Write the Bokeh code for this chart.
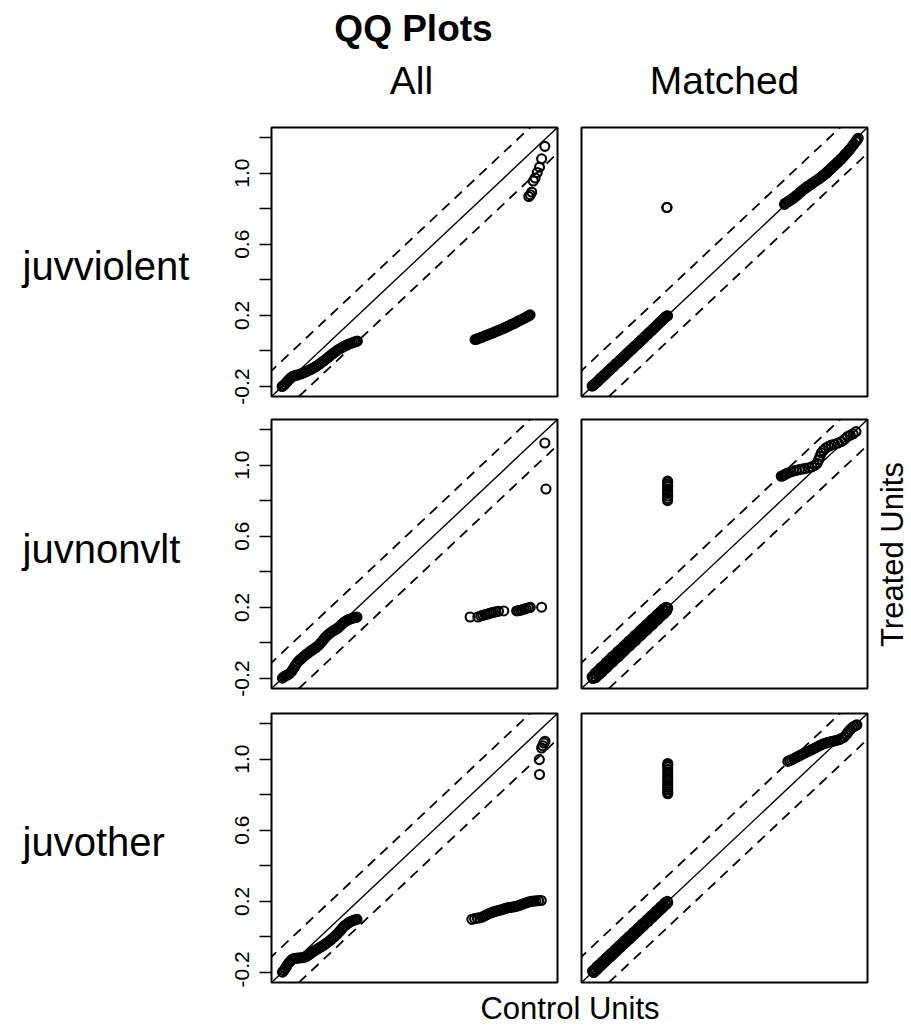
import math
from bokeh.plotting import figure
from bokeh.models import Range1d, Slope, FixedTicker
from bokeh.core.properties import value
from bokeh.layouts import column, row
from bokeh.embed import file_html
from bokeh.resources import INLINE

# ---------------- data (control quantile, treated quantile) ----------------
ROW_NAMES = ["juvviolent", "juvnonvlt", "juvother"]
COL_NAMES = ["All", "Matched"]
TITLE = "QQ Plots"
XLAB = "Control Units"
YLAB = "Treated Units"

Y_TICKS = [-0.2, 0.2, 0.6, 1.0]
Y_TICK_LABELS = ["-0.2", "0.2", "0.6", "1.0"]
Y_MINOR = [0.0, 0.4, 0.8, 1.2]
AX_MIN, AX_MAX = -0.256, 1.256
BAND = 0.145

# juvviolent - All
P1_LOW = [(-0.200,-0.200),(-0.193,-0.194),(-0.186,-0.187),(-0.178,-0.178),(-0.170,-0.169),
          (-0.162,-0.160),(-0.154,-0.151),(-0.146,-0.144),(-0.137,-0.140),(-0.128,-0.137),
          (-0.119,-0.135),(-0.109,-0.132),(-0.099,-0.128),(-0.089,-0.124),(-0.079,-0.119),
          (-0.069,-0.114),(-0.059,-0.109),(-0.049,-0.104),(-0.039,-0.098),(-0.029,-0.092),
          (-0.019,-0.086),(-0.009,-0.079),(0.001,-0.071),(0.011,-0.063),(0.021,-0.055),
          (0.031,-0.047),(0.041,-0.039),(0.051,-0.030),(0.061,-0.021),(0.071,-0.013),
          (0.081,-0.005),(0.091,0.003),(0.101,0.010),(0.111,0.016),(0.121,0.022),
          (0.131,0.028),(0.141,0.033),(0.151,0.038),(0.161,0.042),(0.171,0.046),
          (0.181,0.050),(0.190,0.053),(0.198,0.055)]
P1_MID = [(0.820,0.064),(0.828,0.066),(0.835,0.070),(0.843,0.073),(0.851,0.076),(0.859,0.078),
          (0.867,0.083),(0.875,0.086),(0.884,0.089),(0.893,0.093),(0.902,0.097),(0.911,0.100),
          (0.920,0.104),(0.929,0.109),(0.938,0.113),(0.947,0.116),(0.956,0.120),(0.965,0.125),
          (0.974,0.129),(0.983,0.133),(0.992,0.138),(1.001,0.142),(1.010,0.147),(1.019,0.151),
          (1.028,0.156),(1.037,0.161),(1.046,0.166),(1.055,0.171),(1.064,0.175),(1.073,0.180),
          (1.082,0.185),(1.091,0.190),(1.099,0.195),(1.106,0.199),(1.111,0.203)]
P1_HIGH = [(1.104,0.868),(1.112,0.878),(1.120,0.893),(1.128,0.955),(1.138,0.972),
           (1.149,1.003),(1.161,1.033),(1.172,1.080),(1.189,1.150)]

# juvviolent - Matched
P2_LOW = [(-0.200,-0.198),(-0.190,-0.190),(-0.180,-0.179),(-0.170,-0.171),(-0.160,-0.160),
          (-0.150,-0.148),(-0.140,-0.140),(-0.130,-0.131),(-0.120,-0.119),(-0.110,-0.110),
          (-0.100,-0.099),(-0.090,-0.091),(-0.080,-0.080),(-0.070,-0.069),(-0.060,-0.061),
          (-0.050,-0.049),(-0.040,-0.040),(-0.030,-0.031),(-0.020,-0.019),(-0.010,-0.010),
          (0.000,0.001),(0.010,0.009),(0.020,0.021),(0.030,0.030),(0.040,0.039),
          (0.050,0.051),(0.060,0.060),(0.070,0.069),(0.080,0.081),(0.090,0.090),
          (0.100,0.101),(0.110,0.110),(0.120,0.121),(0.130,0.131),(0.140,0.141),
          (0.150,0.152),(0.160,0.162),(0.170,0.172),(0.180,0.183),(0.190,0.192),(0.199,0.198),
          (-0.195,-0.193),(-0.185,-0.185),(-0.175,-0.176),(-0.165,-0.164),(-0.155,-0.155),
          (-0.145,-0.146),(-0.135,-0.134),(-0.125,-0.126),(-0.115,-0.114),(-0.105,-0.106),
          (-0.095,-0.094),(-0.085,-0.086),(-0.075,-0.074),(-0.065,-0.066),(-0.055,-0.054),
          (-0.045,-0.046),(-0.035,-0.034),(-0.025,-0.026),(-0.015,-0.014),(-0.005,-0.006),
          (0.005,0.006),(0.015,0.014),(0.025,0.026),(0.035,0.034),(0.045,0.046),
          (0.055,0.054),(0.065,0.066),(0.075,0.074),(0.085,0.086),(0.095,0.094),
          (0.105,0.106),(0.115,0.114),(0.125,0.126),(0.135,0.136),(0.145,0.147),
          (0.155,0.157),(0.165,0.167),(0.175,0.178),(0.185,0.188),(0.195,0.196)]
P2_MID = [(0.195,0.806),(0.196,0.807)]
P2_HIGH = [(0.817,0.824),(0.826,0.832),(0.835,0.838),(0.845,0.845),(0.855,0.852),(0.865,0.860),
           (0.875,0.868),(0.885,0.877),(0.895,0.886),(0.905,0.896),(0.915,0.905),(0.925,0.913),
           (0.935,0.920),(0.945,0.928),(0.955,0.935),(0.965,0.942),(0.975,0.950),(0.985,0.957),
           (0.995,0.964),(1.005,0.972),(1.015,0.980),(1.025,0.988),(1.035,0.996),(1.045,1.006),
           (1.055,1.016),(1.065,1.026),(1.075,1.036),(1.085,1.046),(1.095,1.056),(1.105,1.066),
           (1.115,1.076),(1.125,1.088),(1.135,1.100),(1.145,1.112),(1.155,1.124),(1.165,1.136),
           (1.175,1.150),(1.185,1.164),(1.195,1.178),(1.203,1.190),(1.207,1.196),
           (0.821,0.830),(0.840,0.843),(0.860,0.858),(0.880,0.874),(0.900,0.893),(0.920,0.910),
           (0.940,0.926),(0.960,0.940),(0.980,0.955),(1.000,0.969),(1.020,0.985),(1.040,1.002),
           (1.060,1.022),(1.080,1.042),(1.100,1.062),(1.120,1.083),(1.140,1.107),(1.160,1.131),
           (1.180,1.158),(1.199,1.185)]

# juvnonvlt - All
P3_LOW = [(-0.198,-0.198),(-0.190,-0.190),(-0.182,-0.185),(-0.174,-0.181),(-0.166,-0.177),
          (-0.158,-0.170),(-0.150,-0.160),(-0.142,-0.148),(-0.134,-0.134),(-0.126,-0.120),
          (-0.118,-0.108),(-0.109,-0.098),(-0.100,-0.090),(-0.091,-0.081),(-0.082,-0.073),
          (-0.073,-0.065),(-0.064,-0.058),(-0.055,-0.050),(-0.046,-0.044),(-0.037,-0.037),
          (-0.028,-0.030),(-0.019,-0.024),(-0.010,-0.016),(-0.001,-0.006),(0.008,0.004),
          (0.017,0.016),(0.026,0.028),(0.035,0.039),(0.044,0.047),(0.053,0.055),
          (0.062,0.062),(0.071,0.068),(0.080,0.074),(0.089,0.080),(0.098,0.087),
          (0.107,0.096),(0.116,0.105),(0.125,0.114),(0.134,0.121),(0.143,0.127),
          (0.152,0.131),(0.161,0.135),(0.170,0.138),(0.179,0.141),(0.188,0.143),(0.196,0.145)]
P3_MID = [(0.794,0.146),(0.835,0.146),(0.851,0.152),(0.862,0.156),(0.874,0.160),(0.886,0.163),
          (0.897,0.166),(0.908,0.170),(0.918,0.172),(0.930,0.175),(0.944,0.178),(0.972,0.180),
          (1.040,0.180),(1.050,0.182),(1.060,0.184),(1.070,0.187),(1.080,0.190),(1.090,0.194),
          (1.102,0.198),(1.112,0.200),(1.172,0.201)]
P3_HIGH = [(1.189,1.124),(1.195,0.865)]

# juvnonvlt - Matched
P4_LOW = [(-0.200,-0.190),(-0.185,-0.171),(-0.170,-0.157),(-0.155,-0.140),(-0.140,-0.127),
          (-0.125,-0.109),(-0.110,-0.096),(-0.095,-0.079),(-0.080,-0.066),(-0.065,-0.049),
          (-0.050,-0.036),(-0.035,-0.019),(-0.020,-0.006),(-0.005,0.011),(0.010,0.024),
          (0.025,0.041),(0.040,0.054),(0.055,0.071),(0.070,0.084),(0.085,0.101),
          (0.100,0.114),(0.115,0.131),(0.130,0.144),(0.145,0.161),(0.160,0.174),
          (0.175,0.190),(0.190,0.200),
          (-0.195,-0.200),(-0.180,-0.194),(-0.165,-0.179),(-0.150,-0.166),(-0.135,-0.149),
          (-0.120,-0.136),(-0.105,-0.119),(-0.090,-0.106),(-0.075,-0.089),(-0.060,-0.076),
          (-0.045,-0.059),(-0.030,-0.046),(-0.015,-0.029),(0.000,-0.016),(0.015,0.001),
          (0.030,0.014),(0.045,0.031),(0.060,0.044),(0.075,0.061),(0.090,0.074),
          (0.105,0.091),(0.120,0.104),(0.135,0.121),(0.150,0.134),(0.165,0.151),
          (0.180,0.164),(0.195,0.181),(0.200,0.196),
          (-0.192,-0.193),(-0.177,-0.178),(-0.162,-0.161),(-0.147,-0.148),(-0.132,-0.131),
          (-0.117,-0.118),(-0.102,-0.101),(-0.087,-0.088),(-0.072,-0.071),(-0.057,-0.058),
          (-0.042,-0.041),(-0.027,-0.028),(-0.012,-0.011),(0.003,0.002),(0.018,0.019),
          (0.033,0.032),(0.048,0.049),(0.063,0.062),(0.078,0.079),(0.093,0.092),
          (0.108,0.109),(0.123,0.122),(0.138,0.139),(0.153,0.152),(0.168,0.169),
          (0.183,0.182),(0.197,0.198)]
P4_MID = [(0.199,0.800),(0.199,0.812),(0.200,0.826),(0.199,0.840),(0.200,0.852),
          (0.199,0.866),(0.200,0.880),(0.199,0.893),(0.200,0.905),(0.199,0.910)]
P4_HIGH = [(0.800,0.937),(0.808,0.940),(0.815,0.945),(0.822,0.948),(0.830,0.953),(0.840,0.957),
           (0.852,0.962),(0.866,0.967),(0.880,0.970),(0.895,0.974),(0.910,0.977),(0.925,0.980),
           (0.945,0.985),(0.962,0.990),(0.978,0.998),(0.990,1.010),(0.998,1.030),(1.005,1.050),
           (1.012,1.068),(1.022,1.082),(1.035,1.095),(1.050,1.105),(1.065,1.112),(1.082,1.117),
           (1.100,1.124),(1.118,1.132),(1.135,1.145),(1.150,1.160),(1.165,1.168),(1.180,1.175),
           (1.195,1.188)]

# juvother - All
P5_LOW = [(-0.198,-0.198),(-0.191,-0.189),(-0.184,-0.178),(-0.177,-0.166),(-0.170,-0.154),
          (-0.162,-0.143),(-0.154,-0.133),(-0.146,-0.126),(-0.137,-0.122),(-0.128,-0.120),
          (-0.119,-0.119),(-0.110,-0.118),(-0.100,-0.117),(-0.091,-0.116),(-0.082,-0.114),
          (-0.073,-0.110),(-0.064,-0.104),(-0.055,-0.097),(-0.046,-0.090),(-0.037,-0.083),
          (-0.028,-0.077),(-0.019,-0.071),(-0.010,-0.066),(-0.001,-0.060),(0.008,-0.054),
          (0.017,-0.048),(0.026,-0.041),(0.035,-0.035),(0.044,-0.028),(0.053,-0.020),
          (0.062,-0.012),(0.071,-0.004),(0.080,0.005),(0.089,0.014),(0.098,0.024),
          (0.107,0.035),(0.116,0.046),(0.125,0.058),(0.134,0.066),(0.143,0.073),
          (0.152,0.080),(0.161,0.085),(0.170,0.090),(0.179,0.094),(0.188,0.097),(0.196,0.099)]
P5_MID = [(0.803,0.099),(0.818,0.103),(0.832,0.106),(0.845,0.107),(0.858,0.112),(0.868,0.118),
          (0.878,0.123),(0.888,0.128),(0.898,0.133),(0.908,0.137),(0.918,0.141),(0.928,0.144),
          (0.938,0.147),(0.948,0.150),(0.958,0.153),(0.968,0.156),(0.978,0.160),(0.988,0.163),
          (0.998,0.165),(1.008,0.166),(1.018,0.168),(1.028,0.170),(1.038,0.172),(1.048,0.175),
          (1.058,0.179),(1.068,0.183),(1.078,0.187),(1.088,0.191),(1.098,0.195),(1.108,0.198),
          (1.118,0.200),(1.130,0.202),(1.142,0.203),(1.156,0.204),(1.170,0.205)]
P5_HIGH = [(1.161,0.913),(1.160,0.997),(1.172,1.062),(1.178,1.075),(1.184,1.090),(1.190,1.100)]

# juvother - Matched
P6_LOW = [(-0.198,-0.192),(-0.186,-0.181),(-0.174,-0.166),(-0.162,-0.156),(-0.150,-0.143),
          (-0.138,-0.132),(-0.126,-0.119),(-0.114,-0.108),(-0.102,-0.095),(-0.090,-0.085),
          (-0.078,-0.071),(-0.066,-0.060),(-0.054,-0.047),(-0.042,-0.037),(-0.030,-0.023),
          (-0.018,-0.012),(-0.006,0.001),(0.006,0.011),(0.018,0.025),(0.030,0.035),
          (0.042,0.049),(0.054,0.059),(0.066,0.073),(0.078,0.083),(0.090,0.097),
          (0.102,0.107),(0.114,0.121),(0.126,0.131),(0.138,0.145),(0.150,0.155),
          (0.162,0.169),(0.174,0.179),(0.186,0.193),(0.198,0.200),
          (-0.192,-0.200),(-0.180,-0.189),(-0.168,-0.176),(-0.156,-0.164),(-0.144,-0.153),
          (-0.132,-0.140),(-0.120,-0.129),(-0.108,-0.116),(-0.096,-0.105),(-0.084,-0.092),
          (-0.072,-0.081),(-0.060,-0.068),(-0.048,-0.057),(-0.036,-0.044),(-0.024,-0.033),
          (-0.012,-0.020),(0.000,-0.009),(0.012,0.004),(0.024,0.015),(0.036,0.028),
          (0.048,0.039),(0.060,0.052),(0.072,0.063),(0.084,0.076),(0.096,0.087),
          (0.108,0.100),(0.120,0.111),(0.132,0.124),(0.144,0.135),(0.156,0.148),
          (0.168,0.159),(0.180,0.172),(0.192,0.183),(0.200,0.194)]
P6_MID = [(0.200,0.805),(0.200,0.815),(0.200,0.827),(0.200,0.840),(0.200,0.852),
          (0.200,0.865),(0.200,0.878),(0.200,0.890),(0.200,0.903),(0.200,0.916),
          (0.200,0.929),(0.200,0.942),(0.200,0.955),(0.200,0.966),(0.200,0.975)]
P6_HIGH = [(0.835,0.987),(0.845,0.991),(0.855,0.996),(0.866,1.002),(0.877,1.008),(0.888,1.014),
           (0.898,1.020),(0.908,1.025),(0.918,1.031),(0.928,1.037),(0.940,1.042),(0.952,1.048),
           (0.964,1.055),(0.976,1.061),(0.988,1.067),(1.000,1.074),(1.012,1.080),(1.024,1.086),
           (1.036,1.090),(1.048,1.094),(1.060,1.097),(1.072,1.100),(1.084,1.103),(1.096,1.106),
           (1.108,1.110),(1.120,1.117),(1.132,1.124),(1.144,1.138),(1.154,1.152),(1.164,1.165),
           (1.174,1.175),(1.184,1.183),(1.194,1.189),(1.200,1.192)]

PANELS = [
    [P1_LOW + P1_MID + P1_HIGH, P2_LOW + P2_MID + P2_HIGH],
    [P3_LOW + P3_MID + P3_HIGH, P4_LOW + P4_MID + P4_HIGH],
    [P5_LOW + P5_MID + P5_HIGH, P6_LOW + P6_MID + P6_HIGH],
]

# ---------------- layout ----------------
FONT = "Liberation Sans"
PAGE_W, PAGE_H = 911, 1028
FRAME_W, FRAME_H = 286, 269
TOP_H, BOTTOM_H = 110, 41
LEFT_W, RIGHT_W = 200, 42
COL_W = [370, 299]
COL_BORDER = [(71, 13), (11, 2)]
ROW_H = [298, 292, 287]
ROW_BORDER = [(17, 12), (11, 12), (13, 5)]


def text_strip(w, h, items):
    f = figure(width=w, height=h, x_range=Range1d(0, w), y_range=Range1d(h, 0),
               output_backend="svg", toolbar_location=None, tools="",
               x_axis_location=None, y_axis_location=None,
               min_border_left=0, min_border_right=0, min_border_top=0, min_border_bottom=0)
    f.grid.grid_line_color = None
    f.outline_line_color = None
    f.background_fill_color = "white"
    f.border_fill_color = "white"
    for (txt, x, y, size, style, align, angle) in items:
        f.text(x=[x], y=[y], text=[txt], text_font=value(FONT), text_font_size=value(size),
               text_font_style=style, text_align=align, text_baseline="middle",
               text_color="black", angle=angle)
    return f


def make_panel(r, c):
    pts = PANELS[r][c]
    xs = [p[0] for p in pts]
    ys = [p[1] for p in pts]
    fig = figure(width=COL_W[c], height=ROW_H[r],
                 x_range=Range1d(AX_MIN, AX_MAX), y_range=Range1d(AX_MIN, AX_MAX),
                 output_backend="svg", toolbar_location=None, tools="",
                 x_axis_location=None, y_axis_location=("left" if c == 0 else None),
                 min_border_left=COL_BORDER[c][0], min_border_right=COL_BORDER[c][1],
                 min_border_top=ROW_BORDER[r][0], min_border_bottom=ROW_BORDER[r][1])
    fig.grid.grid_line_color = None
    fig.outline_line_color = "black"
    fig.outline_line_width = 2
    fig.outline_line_alpha = 1.0
    fig.background_fill_color = "white"
    fig.border_fill_color = "white"

    if c == 0:
        ax = fig.yaxis[0]
        ax.ticker = FixedTicker(ticks=Y_TICKS, minor_ticks=Y_MINOR)
        ax.major_label_overrides = {t: s for t, s in zip(Y_TICKS, Y_TICK_LABELS)}
        ax.axis_line_color = None
        ax.major_tick_in = 0
        ax.major_tick_out = 12
        ax.minor_tick_in = 0
        ax.minor_tick_out = 12
        ax.major_tick_line_width = 1.5
        ax.minor_tick_line_width = 1.5
        ax.major_tick_line_color = "black"
        ax.minor_tick_line_color = "black"
        ax.major_label_orientation = "vertical"
        ax.major_label_text_font = FONT
        ax.major_label_text_font_size = "21px"
        ax.major_label_text_color = "black"
        ax.major_label_standoff = 10

    fig.scatter(xs, ys, marker="circle", size=9, fill_color=None,
                line_color="black", line_width=2.1)

    fig.add_layout(Slope(gradient=1, y_intercept=0, line_color="black", line_width=1.4))
    fig.add_layout(Slope(gradient=1, y_intercept=BAND, line_color="black",
                         line_width=1.8, line_dash="10 7"))
    fig.add_layout(Slope(gradient=1, y_intercept=-BAND, line_color="black",
                         line_width=1.8, line_dash="10 7"))
    return fig


top = text_strip(PAGE_W, TOP_H, [
    (TITLE, 413, 28, "37px", "bold", "center", 0.0),
    (COL_NAMES[0], 411, 80, "39px", "normal", "center", 0.0),
    (COL_NAMES[1], 724, 80, "39px", "normal", "center", 0.0),
])
mid_h = sum(ROW_H)
left = text_strip(LEFT_W, mid_h, [
    (ROW_NAMES[0], 22, 265 - TOP_H, "40px", "normal", "left", 0.0),
    (ROW_NAMES[1], 22, 548 - TOP_H, "40px", "normal", "left", 0.0),
    (ROW_NAMES[2], 22, 841 - TOP_H, "40px", "normal", "left", 0.0),
])
right = text_strip(RIGHT_W, mid_h, [
    (YLAB, 23, 554 - TOP_H, "31px", "normal", "center", math.pi / 2),
])
bottom = text_strip(PAGE_W, BOTTOM_H, [
    (XLAB, 569.5, 1008 - (PAGE_H - BOTTOM_H), "31px", "normal", "center", 0.0),
])

grid_rows = [row(make_panel(r, 0), make_panel(r, 1), spacing=0) for r in range(3)]
middle = row(left, column(*grid_rows, spacing=0), right, spacing=0)
layout = column(top, middle, bottom, spacing=0)

open("out.html", "w").write(file_html(layout, INLINE))
